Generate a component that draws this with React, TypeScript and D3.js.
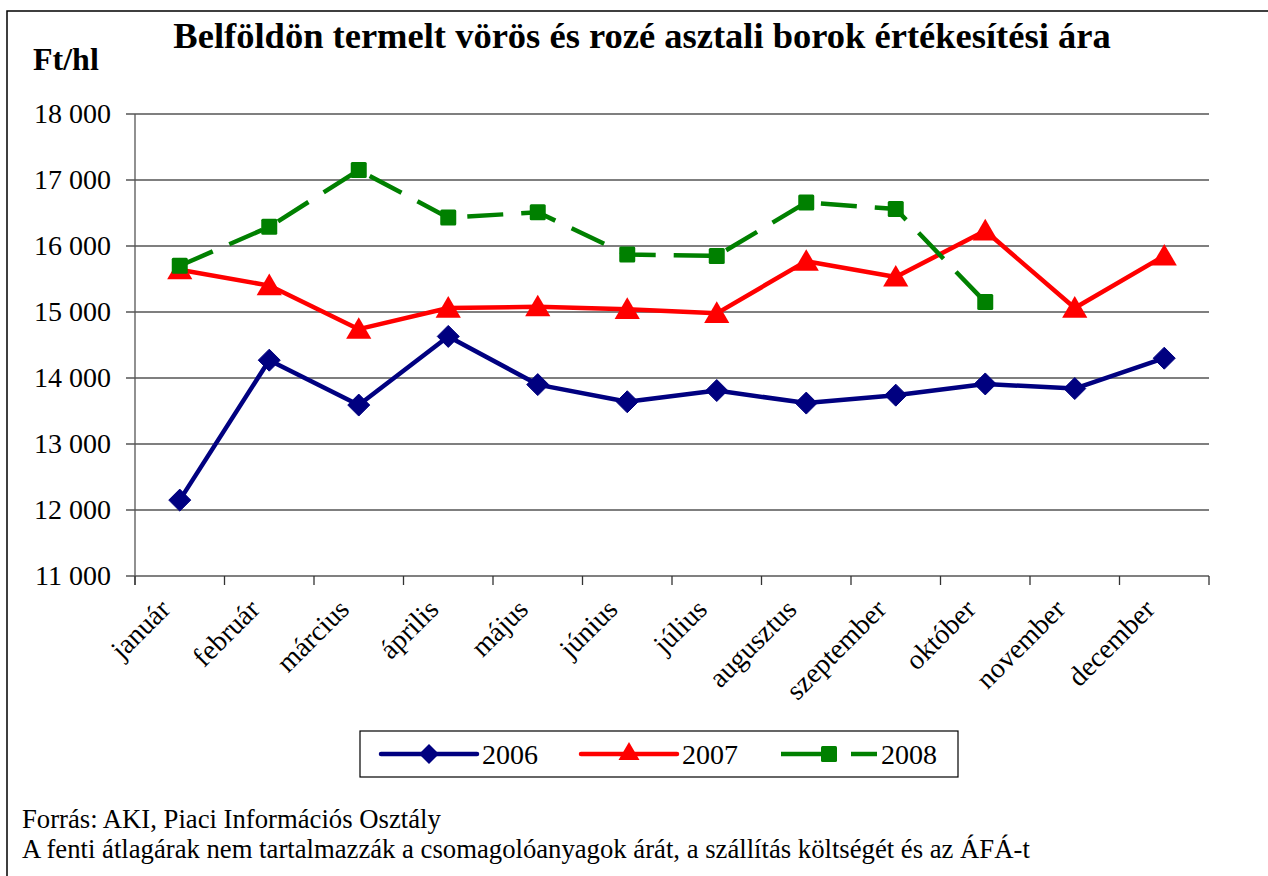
import React from "react";
import * as d3 from "d3";

const months = ["január","február","március","április","május","június","július","augusztus","szeptember","október","november","december"];
const y2006 = [12150,14270,13590,14630,13900,13640,13810,13620,13740,13910,13840,14300];
const y2007 = [15640,15400,14740,15060,15080,15040,14980,15770,15530,16230,15060,15850];
const y2008 = [15700,16290,17150,16430,16510,15870,15850,16660,16560,15150];
const yTicks = [11000,12000,13000,14000,15000,16000,17000,18000];
const title = "Belföldön termelt vörös és rozé asztali borok értékesítési ára";
const unitLabel = "Ft/hl";
const source1 = "Forrás: AKI, Piaci Információs Osztály";
const source2 = "A fenti átlagárak nem tartalmazzák a csomagolóanyagok árát, a szállítás költségét és az ÁFÁ-t";

const W = 1268, H = 876;
const L = 135, R = 1209, T = 114, B = 576;
const FONT = "'Liberation Serif', 'Times New Roman', serif";

export default function App() {
  const x = d3.scaleBand<string>().domain(months).range([L, R]);
  const y = d3.scaleLinear().domain([11000, 18000]).range([B, T]);
  const cx = (i: number) => (x(months[i]) as number) + x.bandwidth() / 2;
  const line = d3.line<number>().x((_, i) => cx(i)).y(d => y(d));
  const fmt = (v: number) => d3.format(",")(v).replace(/,/g, " ");

  const diamond = (px: number, py: number, s = 11) =>
    `M${px},${py - s}L${px + s},${py}L${px},${py + s}L${px - s},${py}Z`;
  const triangle = (px: number, py: number, s = 12) =>
    `M${px},${py - s}L${px + s * 1.05},${py + s * 0.8}L${px - s * 1.05},${py + s * 0.8}Z`;

  const navy = "#000080", red = "#FF0000", green = "#008000";

  return (
    <svg width={W} height={H} style={{ position: "absolute", left: 0, top: 0, background: "#fff" }}>
      <rect x={7} y={11} width={W + 10} height={H + 10} fill="#fff" stroke="#000" strokeWidth={1.5} />
      <text x={642} y={48} textAnchor="middle" fontFamily={FONT} fontWeight="bold" fontSize={36.5}>{title}</text>
      <text x={33} y={70} fontFamily={FONT} fontWeight="bold" fontSize={32}>{unitLabel}</text>

      {yTicks.map(t => (
        <g key={t}>
          <line x1={L - 9} x2={R} y1={y(t)} y2={y(t)} stroke={t === 11000 ? "#808080" : "#555"} strokeWidth={t === 11000 ? 2 : 1.3} />
          <text x={111} y={y(t) + 9} textAnchor="end" fontFamily={FONT} fontSize={28}>{fmt(t)}</text>
        </g>
      ))}
      <line x1={L} x2={L} y1={T} y2={B + 9} stroke="#555" strokeWidth={1.3} />
      {d3.range(months.length + 1).map(i => {
        const tx = L + i * x.bandwidth();
        return <line key={i} x1={tx} x2={tx} y1={B} y2={B + 9} stroke="#333" strokeWidth={1.3} />;
      })}
      {months.map((m, i) => (
        <text key={m} transform={`translate(${cx(i) - 8},${B + 35}) rotate(-45)`} textAnchor="end" fontFamily={FONT} fontSize={28}>{m}</text>
      ))}

      <path d={line(y2006) as string} fill="none" stroke={navy} strokeWidth={4.5} strokeLinejoin="round" />
      {y2006.map((v, i) => <path key={i} d={diamond(cx(i), y(v))} fill={navy} stroke={navy} strokeWidth={1} />)}

      <path d={line(y2007) as string} fill="none" stroke={red} strokeWidth={4.5} strokeLinejoin="round" />
      {y2007.map((v, i) => <path key={i} d={triangle(cx(i), y(v))} fill={red} />)}

      <path d={line(y2008) as string} fill="none" stroke={green} strokeWidth={4.5} strokeDasharray="36 18" />
      {y2008.map((v, i) => <rect key={i} x={cx(i) - 8} y={y(v) - 8} width={16} height={16} rx={1.5} fill={green} />)}

      <g>
        <rect x={360} y={731} width={598} height={46} fill="#fff" stroke="#000" strokeWidth={1.2} />
        <line x1={381} x2={477} y1={754} y2={754} stroke={navy} strokeWidth={4.5} strokeLinecap="round" />
        <path d={diamond(429, 754, 10)} fill={navy} />
        <text x={482} y={764} fontFamily={FONT} fontSize={28}>2006</text>
        <line x1={581} x2={677} y1={754} y2={754} stroke={red} strokeWidth={4.5} strokeLinecap="round" />
        <path d={triangle(629, 752, 10)} fill={red} />
        <text x={682} y={764} fontFamily={FONT} fontSize={28}>2007</text>
        <line x1={781} x2={830} y1={754} y2={754} stroke={green} strokeWidth={4.5} />
        <line x1={851} x2={877} y1={754} y2={754} stroke={green} strokeWidth={4.5} />
        <rect x={821} y={746} width={16} height={16} rx={1.5} fill={green} />
        <text x={881} y={764} fontFamily={FONT} fontSize={28}>2008</text>
      </g>

      <text x={22} y={828} fontFamily={FONT} fontSize={26.7}>{source1}</text>
      <text x={22} y={858} fontFamily={FONT} fontSize={26.7}>{source2}</text>
    </svg>
  );
}
